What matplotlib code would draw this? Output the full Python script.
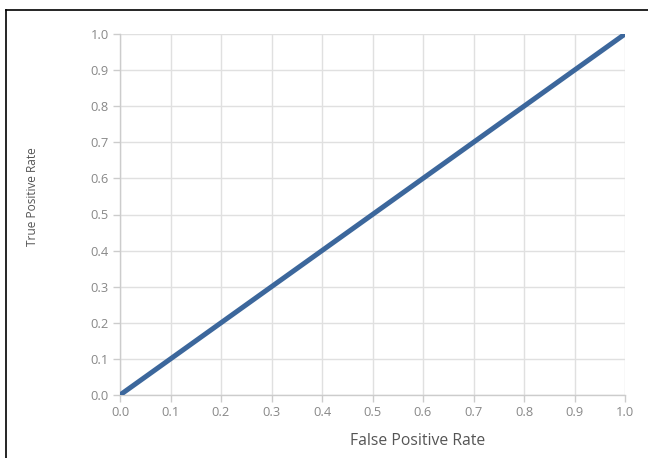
import matplotlib
matplotlib.use("Agg")
import matplotlib.pyplot as plt
from matplotlib.lines import Line2D

fpr = [0.0, 1.0]
tpr = [0.0, 1.0]
ticks = [0.0, 0.1, 0.2, 0.3, 0.4, 0.5, 0.6, 0.7, 0.8, 0.9, 1.0]
tick_labels = ["0.0", "0.1", "0.2", "0.3", "0.4", "0.5", "0.6", "0.7", "0.8", "0.9", "1.0"]

plt.rcParams['font.family'] = ['Open Sans', 'DejaVu Sans']

fig = plt.figure(figsize=(6.48, 4.58), dpi=100)
ax = fig.add_axes([120/648, 1-395/458, 505/648, 361/458])

ax.plot(fpr, tpr, color="#3c679c", linewidth=3.6, solid_capstyle="butt", zorder=3)

ax.set_xlim(0, 1)
ax.set_ylim(0, 1)
ax.set_xticks(ticks)
ax.set_yticks(ticks)
ax.set_xticklabels(tick_labels)
ax.set_yticklabels(tick_labels)
ax.grid(True, color="#e0e0e0", linewidth=1.0, zorder=0)
ax.set_axisbelow(True)

for s in ["top", "right"]:
    ax.spines[s].set_visible(False)
for s in ["left", "bottom"]:
    ax.spines[s].set_color("#cccccc")
    ax.spines[s].set_linewidth(1.0)
ax.tick_params(colors="#cccccc", labelcolor="#888888", labelsize=9.3, length=5, width=1.0, pad=3)

ax.set_xlabel("False Positive Rate", fontsize=11.3, color="#555555", va="center")
ax.xaxis.set_label_coords((418-120)/505, (395-441)/361)
ax.set_ylabel("True Positive Rate", fontsize=8.6, color="#555555", va="center")
ax.yaxis.set_label_coords((32-120)/505, (395-197)/361)

# frame lines around the screenshot
fig.add_artist(Line2D([6/648, 1.0], [1-10/458, 1-10/458], color="black", linewidth=1.2))
fig.add_artist(Line2D([6/648, 6/648], [0.0, 1-10/458], color="black", linewidth=1.2))

fig.savefig("out.png", dpi=100)
